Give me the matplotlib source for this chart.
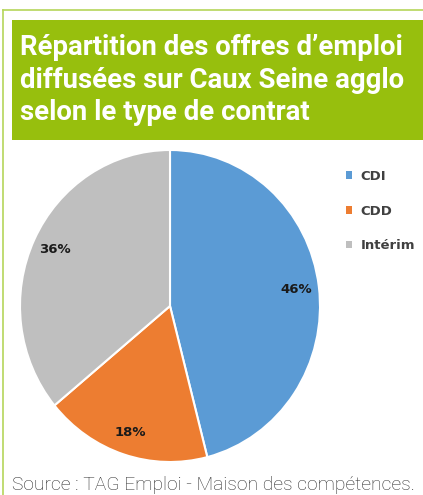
import matplotlib
matplotlib.use("Agg")
import matplotlib.pyplot as plt
from matplotlib.patches import Rectangle, Patch
from matplotlib.lines import Line2D

# data
categories = ["CDI", "CDD", "Intérim"]
shares = [46, 18, 36]
colors = ["#5b9bd5", "#ed7d31", "#bfbfbf"]
title = "Répartition des offres d’emploi\ndiffusées sur Caux Seine agglo\nselon le type de contrat"
source = "Source : TAG Emploi - Maison des compétences."

W, H = 423, 495


def fx(x):
    return x / W


def fy(y):
    return 1 - y / H


fig = plt.figure(figsize=(W / 100, H / 100), dpi=100)
fig.patch.set_facecolor("white")

# frame lines
fig.add_artist(Line2D([fx(3), fx(3)], [fy(10), fy(495)], color="#b5d65a", lw=1.2))
fig.add_artist(Line2D([fx(3), fx(423)], [fy(10), fy(10)], color="#b5d65a", lw=1.2))

# title box
fig.add_artist(Rectangle((fx(12), fy(140)), fx(423) - fx(12), fy(20) - fy(140),
                         facecolor="#97bf0d", edgecolor="none"))
fig.text(fx(20), fy(80), title, color="white", fontsize=19.8, fontweight="bold",
         family="Roboto", va="center", ha="left", linespacing=1.25)

# pie
ax = fig.add_axes([fx(20), fy(462), fx(300), fy(0) - fy(312)])
wedges, texts, autotexts = ax.pie(
    shares, colors=colors, startangle=90, counterclock=False,
    autopct="%d%%", pctdistance=0.85,
    wedgeprops=dict(edgecolor="white", linewidth=1.5),
    textprops=dict(fontsize=9.5, fontweight="bold", color="#1a1a1a"),
)
ax.set_aspect("auto")
ax.set_xlim(-1, 1)
ax.set_ylim(-1, 1)

# legend
handles = [Patch(facecolor=c, edgecolor="none") for c in colors]
fig.legend(handles, categories, loc="upper left",
           bbox_to_anchor=(fx(334), fy(158)), frameon=False,
           handlelength=0.5, handleheight=0.5, handletextpad=0.6,
           labelspacing=1.65, prop=dict(size=9.5, weight="bold"),
           labelcolor="#404040")

fig.text(fx(12), fy(485), source, fontsize=13.9, family="Roboto",
         fontweight="light", color="#2b2b2b", va="center", ha="left")

fig.savefig("out.png", dpi=100)
